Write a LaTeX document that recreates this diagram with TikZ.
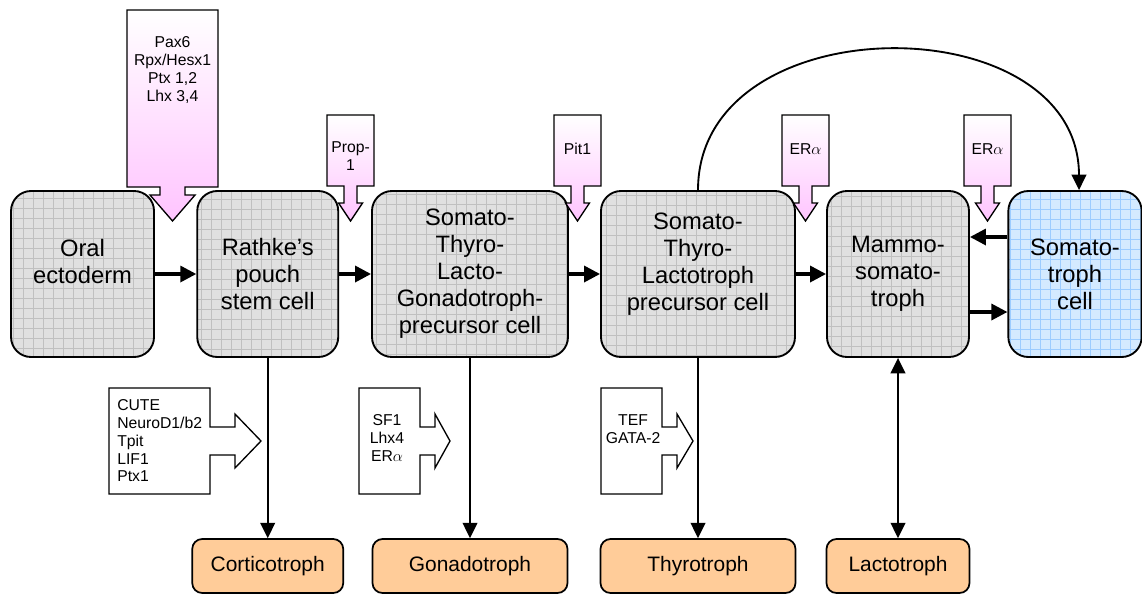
\documentclass[tikz,border=0pt]{standalone}
\usepackage{fontspec}
\setmainfont{Liberation Sans}
\usetikzlibrary{arrows.meta}
\definecolor{grayK}{RGB}{224,224,224}
\definecolor{gridK}{RGB}{192,192,192}
\definecolor{blueK}{RGB}{212,234,255}
\definecolor{blueGridK}{RGB}{156,204,255}
\definecolor{pinkK}{RGB}{255,196,255}
\definecolor{orangeK}{RGB}{255,204,153}
\tikzset{gridFill/.style={path picture={\draw[#1, line width=0.45pt] (path picture bounding box.south west) grid[step=7.5pt] (path picture bounding box.north east);}}}
\tikzstyle{cellNode} = [rectangle, minimum height=124.5pt, inner sep=2pt, align=center, rounded corners=15pt, draw=black, line width=1.4pt, fill=grayK, gridFill=gridK, font=\fontsize{17.8}{20.3}\selectfont]
\tikzstyle{cellNodeB} = [cellNode, fill=blueK, gridFill=blueGridK]
\tikzstyle{typeNode} = [rectangle, minimum height=40.5pt, rounded corners=7.5pt, draw=black, line width=1.3pt, fill=orangeK, font=\fontsize{15.7}{18}\selectfont]
\tikzstyle{factorText} = [inner sep=0pt, align=center, font=\fontsize{11.8}{13.3}\selectfont]
\tikzstyle{pinkArrow} = [draw=black, line width=1pt, top color=white, bottom color=pinkK]
\tikzstyle{whiteArrow} = [draw=black, line width=1pt, fill=white]
\tikzstyle{arrowK} = [line width=2.5pt, -{Triangle[length=12pt,width=12pt]}, draw=black]
\tikzstyle{arrowT} = [line width=1.4pt, -{Triangle[length=11.5pt,width=11pt]}, draw=black]
\tikzstyle{arrowTT} = [arrowT, {Triangle[length=11.5pt,width=11pt]}-{Triangle[length=11.5pt,width=11pt]}]
% small pink factor arrow: name, x, text y, text
\newcommand{\pinkDown}[4]{%
  \draw [pinkArrow] ({#2-17.6},-86.25) -- ({#2+17.6},-86.25) -- ({#2+17.6},-139.5) -- ({#2+4.9},-139.5) -- ({#2+4.9},-152.25) -- ({#2+9},-152.25) -- (#2,-165.75) -- ({#2-9},-152.25) -- ({#2-4.9},-152.25) -- ({#2-4.9},-139.5) -- ({#2-17.6},-139.5) -- cycle;
  \node (#1) [factorText] at (#2,#3) {#4};}
% white factor box pointing right: left, box right, shaft end, tip
\newcommand{\whiteRight}[4]{%
  \draw [whiteArrow] (#1,-291) -- (#2,-291) -- (#2,-320.25) -- (#3,-320.25) -- (#3,-310.5) -- (#4,-330.75) -- (#3,-351) -- (#3,-341.25) -- (#2,-341.25) -- (#2,-370.5) -- (#1,-370.5) -- cycle;}

\begin{document}
\begin{tikzpicture}[x=1pt, y=1pt, node distance=138pt]
        \useasboundingbox (0,0) rectangle (856.5,-445.5);
        \node (oral) [cellNode, minimum width=107.25pt] at (61.9,-205.5) {Oral\\ectoderm\\[-2pt]\mbox{}};
        \node (rathke) [cellNode, minimum width=105.75pt, right of=oral, xshift=0.9pt] {Rathke’s\\pouch\\stem cell};
        \node (stlg) [cellNode, minimum width=147pt, right of=rathke, xshift=13.7pt] {Somato-\\Thyro-\\Lacto-\\Gonadotroph-\\precursor cell};
        \node (stl) [cellNode, minimum width=145.5pt, right of=stlg, xshift=33pt] {Somato-\\Thyro-\\Lactotroph\\precursor cell\\[-2pt]\mbox{}};
        \node (mammo) [cellNode, minimum width=106.5pt, right of=stl, xshift=12pt] {Mammo-\\somato-\\troph};
        \node (soma) [cellNodeB, minimum width=100pt, right of=mammo, xshift=-5.25pt] {Somato-\\troph\\cell};
        
        \node (cortico) [typeNode, minimum width=113.25pt, below of=rathke, yshift=-81pt] {Corticotroph};
        \node (gonado) [typeNode, minimum width=146.25pt, below of=stlg, yshift=-81pt] {Gonadotroph};
        \node (thyro) [typeNode, minimum width=146.25pt, below of=stl, yshift=-81pt] {Thyrotroph};
        \node (lacto) [typeNode, minimum width=107.25pt, below of=mammo, yshift=-81pt] {Lactotroph};
        
        \draw [arrowK] (oral) -- (rathke);
        \draw [arrowK] (rathke) -- (stlg);
        \draw [arrowK] (stlg) -- (stl);
        \draw [arrowK] (stl) -- (mammo);
        \draw [arrowK] ([yshift=-28.5pt]mammo.east) -- ([yshift=-28.5pt]soma.west);
        \draw [arrowK] ([yshift=27.75pt]soma.west) -- ([yshift=27.75pt]mammo.east);
        
        \draw [arrowT] (rathke) -- (cortico);
        \draw [arrowT] (stlg) -- (gonado);
        \draw [arrowT] (stl) -- (thyro);
        \draw [arrowTT] (mammo) -- (lacto);
        \draw [arrowT] (stl.north) .. controls +(0,140) and +(0,140) .. ([xshift=3pt]soma.north);
        
        % factors
        \draw [pinkArrow] (95.25,-7.5) -- (163.5,-7.5) -- (163.5,-140.25) -- (138.8,-140.25) -- (138.8,-146.25) -- (146.3,-146.25) -- (129.4,-165.75) -- (112.5,-146.25) -- (120,-146.25) -- (120,-140.25) -- (95.25,-140.25) -- cycle;
        \node (early) [factorText] at (129.4,-52.5) {Pax6\\Rpx/Hesx1\\Ptx 1,2\\Lhx 3,4};
        \pinkDown{prop}{262.9}{-117}{Prop-\\1}
        \pinkDown{pit}{433.1}{-111.75}{Pit1}
        \pinkDown{eraA}{604.1}{-111.75}{ER$\alpha$}
        \pinkDown{eraB}{740.6}{-111.75}{ER$\alpha$}
        
        \whiteRight{81.75}{157.5}{176.25}{195.75}
        \node (cute) [factorText, align=left, anchor=west] at (87.75,-330.75) {CUTE\\NeuroD1/b2\\Tpit\\LIF1\\Ptx1};
        \whiteRight{269.25}{315}{326.25}{337.5}
        \node (sf) [factorText] at (290.25,-328.5) {SF1\\Lhx4\\ER$\alpha$};
        \whiteRight{450.75}{496.5}{507.75}{519.75}
        \node (tef) [factorText] at (474.75,-321.75) {TEF\\GATA-2};
    \end{tikzpicture}
\end{document}
